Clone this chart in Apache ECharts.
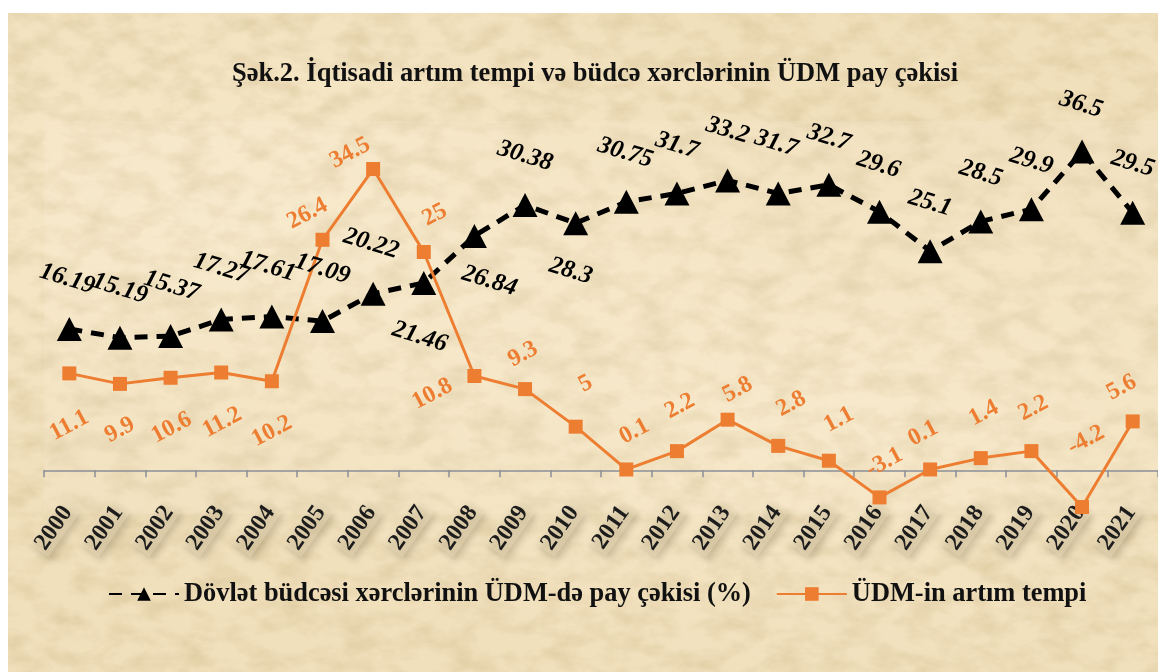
<!DOCTYPE html>
<html>
<head>
<meta charset="utf-8">
<script src="https://cdn.jsdelivr.net/npm/echarts@6/dist/echarts.min.js"></script>
<style>
  html, body { margin: 0; padding: 0; background: #ffffff; }
  #paper {
    position: absolute; left: 8px; top: 13px; width: 1150px; height: 659px;
    background-color: #f1e0bc;
    background-image:
      url("data:image/svg+xml;utf8,<svg xmlns='http://www.w3.org/2000/svg' width='1150' height='659'><filter id='n'><feTurbulence type='fractalNoise' baseFrequency='0.03 0.05' numOctaves='5' seed='7'/><feColorMatrix values='0 0 0 0 0.55  0 0 0 0 0.42  0 0 0 0 0.2  0.7 0 0 0 -0.27'/></filter><rect width='100%' height='100%' filter='url(%23n)'/></svg>"),
      radial-gradient(ellipse at 20% 30%, rgba(250,238,210,0.6), rgba(250,238,210,0) 45%),
      radial-gradient(ellipse at 70% 60%, rgba(250,238,210,0.5), rgba(250,238,210,0) 50%);
  }
  #chart { position: absolute; left: 0; top: 0; width: 1158px; height: 672px; }
</style>
</head>
<body>
<div id="paper"></div>
<div id="chart"></div>
<script>
// categories and values
const years = ['2000', '2001', '2002', '2003', '2004', '2005', '2006', '2007', '2008', '2009', '2010',
    '2011', '2012', '2013', '2014', '2015', '2016', '2017', '2018', '2019', '2020', '2021'];
const budgetShare = [16.19, 15.19, 15.37, 17.27, 17.61, 17.09, 20.22, 21.46, 26.84, 30.38, 28.3,
    30.75, 31.7, 33.2, 31.7, 32.7, 29.6, 25.1, 28.5, 29.9, 36.5, 29.5];
const gdpGrowth = [11.1, 9.9, 10.6, 11.2, 10.2, 26.4, 34.5, 25, 10.8, 9.3, 5,
    0.1, 2.2, 5.8, 2.8, 1.1, -3.1, 0.1, 1.4, 2.2, -4.2, 5.6];

const budgetName = 'Dövlət büdcəsi xərclərinin ÜDM-də pay çəkisi (%)';
const growthName = 'ÜDM-in artım tempi';

// where each data label sits relative to its point (px)
const budgetLabelShift = [[-2, -50], [0, -49], [1, -50], [0, -51], [-4, -50], [0, -52], [-2, -50], [-4, 54],
    [15, 45], [0, -49], [-5, 48], [-1, -49], [0, -48], [0, -50], [-2, -50], [0, -47], [-1, -47], [0, -48],
    [0, -48], [0, -48], [-1, -47], [0, -49]];
const growthLabelShift = [[0, 52], [0, 46], [1, 50], [1, 50], [0, 50], [-15, -26], [-23, -16], [11, -37],
    [-42, 18], [-2, -35], [10, -43], [8, -38], [3, -45], [10, -30], [13, -42], [10, -41], [5, -35], [-7, -36],
    [3, -45], [2, -43], [4, -67], [-11, -34]];

const serif = "'Liberation Serif', 'Times New Roman', serif";
const ORANGE = '#ed7d31';
const budgetRot = -17;
const growthRot = 28;

// label offset is rotated together with the label, so undo the rotation first
function shiftFor(d, deg) {
    const t = deg * Math.PI / 180;
    return [d[0] * Math.cos(t) - d[1] * Math.sin(t), d[0] * Math.sin(t) + d[1] * Math.cos(t)];
}

const chart = echarts.init(document.getElementById('chart'));

const option = {
    backgroundColor: 'transparent',
    animation: false,
    title: {
        text: 'Şək.2. İqtisadi artım tempi və büdcə xərclərinin ÜDM pay çəkisi',
        left: 227,
        top: 56,
        textStyle: { fontFamily: serif, fontSize: 26.5, fontWeight: 'bold', color: '#111' }
    },
    legend: {
        left: 103,
        top: 576,
        itemWidth: 70,
        itemHeight: 17,
        itemGap: 25,
        textStyle: { fontFamily: serif, fontSize: 26.4, fontWeight: 'bold', color: '#111' },
        data: [budgetName, growthName]
    },
    grid: {
        left: 44,
        right: 0,
        top: 121,
        bottom: 158,
        show: true,
        borderWidth: 0,
        backgroundColor: 'rgba(255,248,228,0.12)'
    },
    xAxis: {
        type: 'category',
        data: years,
        boundaryGap: true,
        axisLine: { onZero: true, lineStyle: { color: '#8a8e98', width: 1.5 } },
        axisTick: { show: true, length: 7, lineStyle: { color: '#8a8e98', width: 1.5 } },
        axisLabel: {
            interval: 0,
            rotate: 55,
            margin: -8,
            fontFamily: serif,
            fontSize: 24,
            fontWeight: 'bold',
            color: '#1c1c1c',
            backgroundColor: 'rgba(240,226,192,0.35)',
            padding: [0, 3],
            shadowColor: 'rgba(60,45,20,0.55)',
            shadowBlur: 6,
            shadowOffsetX: 3,
            shadowOffsetY: 4
        }
    },
    yAxis: {
        type: 'value',
        min: -5,
        max: 40,
        show: false,
        splitLine: { show: false }
    },
    series: [
        {
            name: budgetName,
            type: 'line',
            data: budgetShare.map((v, i) => ({
                value: v,
                label: { offset: shiftFor(budgetLabelShift[i], budgetRot) }
            })),
            symbol: 'triangle',
            symbolSize: [25, 24],
            itemStyle: { color: '#000' },
            lineStyle: { color: '#000', width: 5, type: [13, 9] },
            label: {
                show: true,
                position: 'inside',
                rotate: budgetRot,
                fontFamily: serif,
                fontSize: 25,
                fontWeight: 'bold',
                fontStyle: 'italic',
                color: '#000'
            }
        },
        {
            name: growthName,
            type: 'line',
            data: gdpGrowth.map((v, i) => ({
                value: v,
                label: { offset: shiftFor(growthLabelShift[i], growthRot) }
            })),
            symbol: 'rect',
            symbolSize: 14,
            itemStyle: { color: ORANGE },
            lineStyle: { color: ORANGE, width: 3 },
            label: {
                show: true,
                position: 'inside',
                rotate: growthRot,
                fontFamily: serif,
                fontSize: 24,
                fontWeight: 'bold',
                color: ORANGE
            }
        }
    ]
};

chart.setOption(option);
</script>
</body>
</html>
